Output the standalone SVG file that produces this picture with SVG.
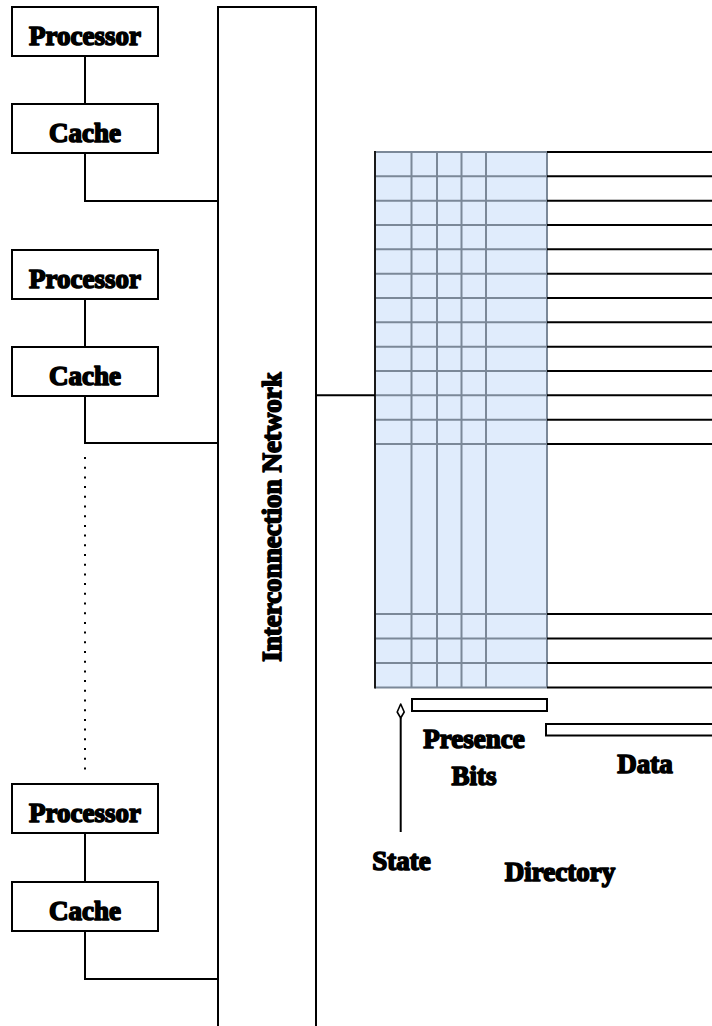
<svg xmlns="http://www.w3.org/2000/svg" width="712" height="1026" viewBox="0 0 712 1026">
  <style>
    .box { fill: #ffffff; stroke: #000000; stroke-width: 2; }
    .wire { fill: none; stroke: #000000; stroke-width: 2; }
    .grid { fill: none; stroke: #7b8898; stroke-width: 2; }
    .lbl { font-family: "Liberation Serif", "Times New Roman", serif; font-weight: bold; font-size: 27px; fill: #000000; stroke: #000000; stroke-width: 1.6; stroke-linejoin: round; text-anchor: middle; }
  </style>
  <defs>
    <!-- lance-shaped open arrowhead, drawn along +x -->
    <marker id="lance" viewBox="0 0 16 10" refX="1" refY="5" markerWidth="16" markerHeight="10" markerUnits="userSpaceOnUse" orient="auto">
      <path d="M1 5 L7 1.5 L15 5 L7 8.5 Z" fill="#ffffff" stroke="#000000" stroke-width="1.6" stroke-linejoin="round"/>
    </marker>
  </defs>

  <rect width="712" height="1026" fill="#ffffff"/>

  <!-- interconnection network -->
  <g id="network">
    <rect class="box" x="218" y="7" width="98" height="1030"/>
    <text class="lbl" transform="translate(281 517) rotate(-90)">Interconnection Network</text>
  </g>

  <!-- node 1 -->
  <g id="proc1">
    <rect class="box" x="12" y="7" width="146" height="49"/>
    <text class="lbl" x="85" y="45">Processor</text>
  </g>
  <g id="cache1">
    <rect class="box" x="12" y="104" width="146" height="49"/>
    <text class="lbl" x="85" y="142">Cache</text>
  </g>

  <!-- node 2 -->
  <g id="proc2">
    <rect class="box" x="12" y="250" width="146" height="49"/>
    <text class="lbl" x="85" y="288">Processor</text>
  </g>
  <g id="cache2">
    <rect class="box" x="12" y="347" width="146" height="49"/>
    <text class="lbl" x="85" y="385">Cache</text>
  </g>

  <!-- node n -->
  <g id="proc3">
    <rect class="box" x="12" y="784" width="146" height="49"/>
    <text class="lbl" x="85" y="822">Processor</text>
  </g>
  <g id="cache3">
    <rect class="box" x="12" y="882" width="146" height="49"/>
    <text class="lbl" x="85" y="920">Cache</text>
  </g>

  <!-- directory memory -->
  <g id="directory">
    <rect x="375" y="152" width="172" height="535.5" fill="#e0ecfc"/>
    <g class="grid">
      <path d="M375 152H547 M375 176.3H547 M375 200.7H547 M375 225H547 M375 249.3H547 M375 273.7H547 M375 298H547 M375 322.3H547 M375 346.7H547 M375 371H547 M375 395.3H547 M375 419.7H547 M375 444H547"/>
      <path d="M375 614H547 M375 638.5H547 M375 663H547 M375 687.5H547"/>
      <path d="M411.5 152V687.5 M437 152V687.5 M461.5 152V687.5 M486 152V687.5 M547 152V687.5"/>
    </g>
    <line x1="375" y1="151" x2="375" y2="688.5" stroke="#1a1a1a" stroke-width="2"/>
    <g class="wire">
      <path d="M547 152H712 M547 176.3H712 M547 200.7H712 M547 225H712 M547 249.3H712 M547 273.7H712 M547 298H712 M547 322.3H712 M547 346.7H712 M547 371H712 M547 395.3H712 M547 419.7H712 M547 444H712"/>
      <path d="M547 614H712 M547 638.5H712 M547 663H712 M547 687.5H712"/>
    </g>
    <rect class="box" x="412" y="699" width="135" height="12"/>
    <rect class="box" x="546" y="724" width="170" height="11.5"/>
    <text class="lbl" x="474" y="748">Presence</text>
    <text class="lbl" x="474" y="785">Bits</text>
    <text class="lbl" x="645" y="773">Data</text>
    <text class="lbl" x="401.5" y="870">State</text>
    <text class="lbl" x="560" y="881">Directory</text>
  </g>

  <!-- connectors -->
  <g id="connectors" class="wire">
    <line x1="85" y1="56" x2="85" y2="104"/>
    <polyline points="85,153 85,201 218,201"/>
    <line x1="85" y1="299" x2="85" y2="347"/>
    <polyline points="85,396 85,443 218,443"/>
    <line x1="85" y1="833" x2="85" y2="882"/>
    <polyline points="85,931 85,979 218,979"/>
    <line x1="316" y1="395.3" x2="375" y2="395.3"/>
    <line x1="85" y1="457" x2="85" y2="770" stroke-width="2" stroke-dasharray="2 7.7"/>
    <line x1="400.7" y1="832" x2="400.7" y2="718" marker-end="url(#lance)"/>
  </g>
</svg>
